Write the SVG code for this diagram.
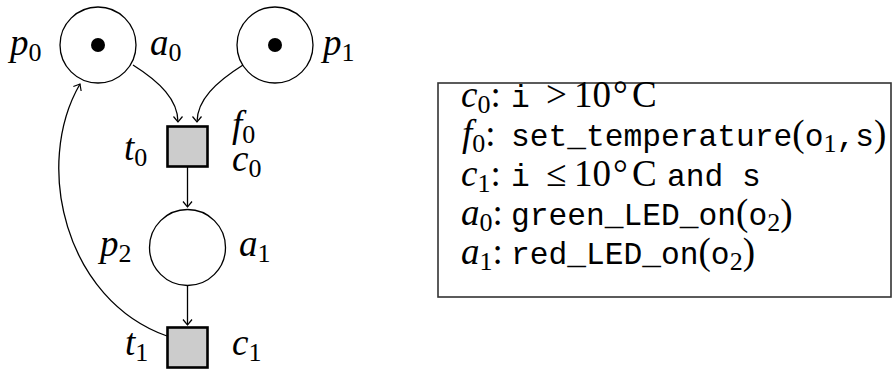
<svg xmlns="http://www.w3.org/2000/svg" width="893" height="370" viewBox="0 0 893 370">
<style>
  .place { fill: #fff; stroke: #000; stroke-width: 1.3; }
  .tok { fill: #000; }
  .trans { fill: #cccccc; stroke: #000; stroke-width: 2.6; }
  .arc { fill: none; stroke: #000; stroke-width: 1.3; marker-end: url(#ah); }
  .m { font-family: "Liberation Serif", serif; font-style: italic; font-size: 37px; fill: #000; }
  .sub { font-style: normal; font-size: 26px; }
  .rm { font-style: normal; }
  .tt { font-family: "Liberation Mono", monospace; font-style: normal; font-size: 31.25px; }
  .box { fill: #fff; stroke: #333; stroke-width: 1.6; }
</style>
<defs>
  <marker id="ah" viewBox="-7 -6 8 12" refX="0" refY="0" markerWidth="8" markerHeight="12" markerUnits="userSpaceOnUse" orient="auto">
    <path d="M-5.5,-4.5 Q-1.5,-1.2 0,0 Q-1.5,1.2 -5.5,4.5" fill="none" stroke="#000" stroke-width="1.2"/>
  </marker>
</defs>

<g id="connectors">
  <path class="arc" d="M133,65 C160,82 178,100 178,122"/>
  <path class="arc" d="M243,65 C216,82 197,100 197,122"/>
  <path class="arc" d="M187.5,167 L187.5,207"/>
  <path class="arc" d="M187.5,286 L187.5,325"/>
  <path class="arc" d="M167,336 C65,300 33,165 80,84"/>
</g>

<g id="p0">
  <circle class="place" cx="98" cy="45" r="38"/>
  <circle class="tok" cx="98" cy="45" r="7"/>
  <text class="m" x="10" y="55">p<tspan class="sub" dy="6">0</tspan></text>
  <text class="m" x="150" y="55">a<tspan class="sub" dy="6">0</tspan></text>
</g>
<g id="p1">
  <circle class="place" cx="275" cy="45" r="38"/>
  <circle class="tok" cx="275" cy="45" r="7"/>
  <text class="m" x="323" y="55">p<tspan class="sub" dy="6">1</tspan></text>
</g>
<g id="t0">
  <rect class="trans" x="167.5" y="126.5" width="40" height="40"/>
  <text class="m" x="124" y="160">t<tspan class="sub" dy="6">0</tspan></text>
  <text class="m" x="232" y="137">f<tspan class="sub" dy="6">0</tspan></text>
  <text class="m" x="232" y="171">c<tspan class="sub" dy="6">0</tspan></text>
</g>
<g id="p2">
  <circle class="place" cx="187.5" cy="247.5" r="38"/>
  <text class="m" x="100" y="256">p<tspan class="sub" dy="6">2</tspan></text>
  <text class="m" x="239" y="256">a<tspan class="sub" dy="6">1</tspan></text>
</g>
<g id="t1">
  <rect class="trans" x="167.5" y="327.5" width="40" height="40"/>
  <text class="m" x="125" y="355">t<tspan class="sub" dy="6">1</tspan></text>
  <text class="m" x="232" y="355">c<tspan class="sub" dy="6">1</tspan></text>
</g>

<g id="legend">
  <rect class="box" x="438" y="83" width="453" height="214"/>
  <text class="m" x="461" y="107">c<tspan class="sub" dy="6">0</tspan><tspan class="rm" dy="-6">:</tspan><tspan class="tt" x="511">i</tspan><tspan class="rm" x="546">&gt;</tspan><tspan class="rm" x="574">10</tspan><tspan class="rm" x="613">°</tspan><tspan class="rm" x="632">C</tspan></text>
  <text class="m" x="462" y="146">f<tspan class="sub" dy="6">0</tspan><tspan class="rm" dy="-6">:</tspan><tspan class="tt" x="511">set_temperature</tspan><tspan class="rm">(</tspan><tspan class="tt">o</tspan><tspan class="sub" dy="6">1</tspan><tspan class="tt" dy="-6">,s</tspan><tspan class="rm">)</tspan></text>
  <text class="m" x="461" y="186">c<tspan class="sub" dy="6">1</tspan><tspan class="rm" dy="-6">:</tspan><tspan class="tt" x="511">i</tspan><tspan class="rm" x="546">≤</tspan><tspan class="rm" x="574">10</tspan><tspan class="rm" x="613">°</tspan><tspan class="rm" x="632">C</tspan><tspan class="tt" x="667">and s</tspan></text>
  <text class="m" x="461" y="225">a<tspan class="sub" dy="6">0</tspan><tspan class="rm" dy="-6">:</tspan><tspan class="tt" x="511">green_LED_on</tspan><tspan class="rm">(</tspan><tspan class="tt">o</tspan><tspan class="sub" dy="6">2</tspan><tspan class="rm" dy="-6">)</tspan></text>
  <text class="m" x="461" y="264">a<tspan class="sub" dy="6">1</tspan><tspan class="rm" dy="-6">:</tspan><tspan class="tt" x="511">red_LED_on</tspan><tspan class="rm">(</tspan><tspan class="tt">o</tspan><tspan class="sub" dy="6">2</tspan><tspan class="rm" dy="-6">)</tspan></text>
</g>
</svg>
